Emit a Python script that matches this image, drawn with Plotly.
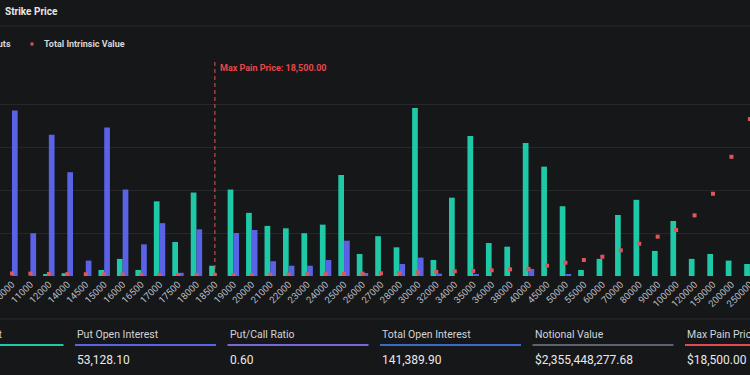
import plotly.graph_objects as go

# ---------------- data ----------------
strikes = ["10000", "11000", "12000", "14000", "14500", "15000", "16000", "16500",
           "17000", "17500", "18000", "18500", "19000", "20000", "21000", "22000",
           "23000", "24000", "25000", "26000", "27000", "28000", "30000", "32000",
           "34000", "35000", "36000", "38000", "40000", "45000", "50000", "55000",
           "60000", "70000", "80000", "90000", "100000", "120000", "150000",
           "200000", "250000"]

calls = [0, 0, 50, 130, 0, 280, 800, 280,
         3490, 1590, 3900, 480, 4040, 2950, 2340, 2230,
         2000, 2400, 4720, 1030, 1860, 1340, 7850, 750,
         3660, 6540, 1540, 1370, 6210, 5110, 3260, 280,
         800, 2850, 3560, 1170, 2570, 800, 1030,
         720, 560]

puts = [7730, 2000, 6600, 4850, 720, 6940, 4040, 1480,
        2470, 150, 2180, 0, 2010, 2150, 690, 480,
        480, 750, 1650, 140, 0, 560, 860, 110,
        0, 90, 0, 0, 330, 0, 50, 0,
        0, 0, 0, 0, 0, 0, 0,
        0, 0]

# total intrinsic value (billions USD)
intrinsic = [0.32, 0.30, 0.26, 0.24, 0.22, 0.20, 0.18, 0.16,
             0.14, 0.13, 0.12, 0.12, 0.12, 0.13, 0.15, 0.17,
             0.20, 0.23, 0.26, 0.30, 0.34, 0.38, 0.45, 0.52,
             0.60, 0.64, 0.72, 0.84, 0.90, 1.30, 1.68, 2.02,
             2.43, 3.24, 4.07, 4.96, 5.80, 7.65, 10.38,
             15.04, 19.80]

max_pain_strike = "18500"
max_pain_label = "Max Pain Price: 18,500.00"

stat_labels = ["Call Open Interest", "Put Open Interest", "Put/Call Ratio",
               "Total Open Interest", "Notional Value", "Max Pain Price"]
stat_values = ["88,261.80", "53,128.10", "0.60", "141,389.90",
               "$2,355,448,277.68", "$18,500.00"]
stat_colors = ["#1fc8a6", "#5a62e6", "#7a66d6", "#3b6bc6", "#5d636e", "#e5484d"]

# ---------------- style ----------------
BG = "#161719"
CALL = "#1fc8a6"
PUT = "#5a62e6"
RED = "#e0555a"
GRID = "#25272b"
SEP = "#2b2d31"
FONT = "Roboto"

W, H = 750, 375
PT, PB = 62, 276


def px(x):
    return x / W


def py(y):
    return (PB - y) / (PB - PT)


mp_idx = strikes.index(max_pain_strike)

fig = go.Figure()
fig.add_bar(x=strikes, y=calls, name="Calls", marker=dict(color=CALL, line=dict(width=0)))
fig.add_bar(x=strikes, y=puts, name="Puts", marker=dict(color=PUT, line=dict(width=0)))
fig.add_scatter(x=strikes, y=intrinsic, mode="markers", name="Total Intrinsic Value",
                yaxis="y2", marker=dict(symbol="square", size=4, color=RED, line=dict(width=0)))

shapes = []
annotations = []

# max pain line (category serial index)
shapes.append(dict(type="line", xref="x", yref="paper", x0=mp_idx, x1=mp_idx,
                   y0=0, y1=1, line=dict(color=RED, width=1, dash="4px,3px")))
annotations.append(dict(xref="x", yref="paper", x=mp_idx, y=1, xanchor="left", yanchor="top",
                        xshift=3, yshift=1, showarrow=False, text="<b>" + max_pain_label + "</b>",
                        font=dict(family=FONT, size=9, color="#e5484d")))

# header
annotations.append(dict(xref="paper", yref="paper", x=px(3), y=py(11), xanchor="left", yanchor="middle",
                        showarrow=False, text="<b>Strike Price</b>",
                        font=dict(family=FONT, size=10, color="#e6e7e9")))
shapes.append(dict(type="line", xref="paper", yref="paper", x0=0, x1=1, y0=py(26), y1=py(26),
                   line=dict(color=SEP, width=1)))

# legend (manual)
annotations.append(dict(xref="paper", yref="paper", x=px(12.5), y=py(44), xanchor="right", yanchor="middle",
                        showarrow=False, text="<b>Puts</b>",
                        font=dict(family=FONT, size=9, color="#d4d6da")))
shapes.append(dict(type="rect", xref="paper", yref="paper", x0=px(30.5), x1=px(33.5),
                   y0=py(45.5), y1=py(42.5), fillcolor=RED, line=dict(width=0)))
annotations.append(dict(xref="paper", yref="paper", x=px(42), y=py(44), xanchor="left", yanchor="middle",
                        showarrow=False, text="<b>Total Intrinsic Value</b>",
                        font=dict(family=FONT, size=9, color="#d4d6da")))

# stats panel
shapes.append(dict(type="line", xref="paper", yref="paper", x0=0, x1=1, y0=py(319), y1=py(319),
                   line=dict(color=SEP, width=1)))
col_w = 152.5
x_first = 75 - col_w
for i, (lab, val, col) in enumerate(zip(stat_labels, stat_values, stat_colors)):
    x0 = x_first + i * col_w
    if i == 0:
        annotations.append(dict(xref="paper", yref="paper", x=px(3.5), y=py(334), xanchor="right",
                                yanchor="middle", showarrow=False, text=lab,
                                font=dict(family=FONT, size=10.5, color="#d1d4d8")))
    else:
        annotations.append(dict(xref="paper", yref="paper", x=px(x0), y=py(334), xanchor="left",
                                yanchor="middle", showarrow=False, text=lab,
                                font=dict(family=FONT, size=10.5, color="#d1d4d8")))
    shapes.append(dict(type="line", xref="paper", yref="paper", x0=px(x0), x1=px(x0 + 141),
                       y0=py(345), y1=py(345), line=dict(color=col, width=2)))
    annotations.append(dict(xref="paper", yref="paper", x=px(x0), y=py(360), xanchor="left",
                            yanchor="middle", showarrow=False, text=val,
                            font=dict(family=FONT, size=12, color="#e8e9eb")))

fig.update_layout(
    width=W, height=H,
    margin=dict(l=0, r=0, t=PT, b=H - PB, pad=0, autoexpand=False),
    paper_bgcolor=BG, plot_bgcolor=BG,
    barmode="group", bargap=0.38, bargroupgap=0,
    showlegend=False,
    font=dict(family=FONT, color="#c8cacd"),
    xaxis=dict(type="category", range=[-0.648, 40.005], tickangle=-45, showgrid=False,
               zeroline=False, showline=False, ticks="", automargin=False,
               tickfont=dict(family=FONT, size=9.5, color="#b9bcc1")),
    yaxis=dict(range=[0, 10000], dtick=2000, showgrid=True, gridcolor=GRID, gridwidth=1,
               zeroline=False, showline=False, showticklabels=False, ticks="", automargin=False),
    yaxis2=dict(range=[0, 27], overlaying="y", visible=False, showgrid=False),
    shapes=shapes,
    annotations=annotations,
)

fig.write_html(
    "out.html",
    config={"displayModeBar": False},
    post_script="document.body.style.margin='0';document.body.style.background='%s';" % BG,
)
